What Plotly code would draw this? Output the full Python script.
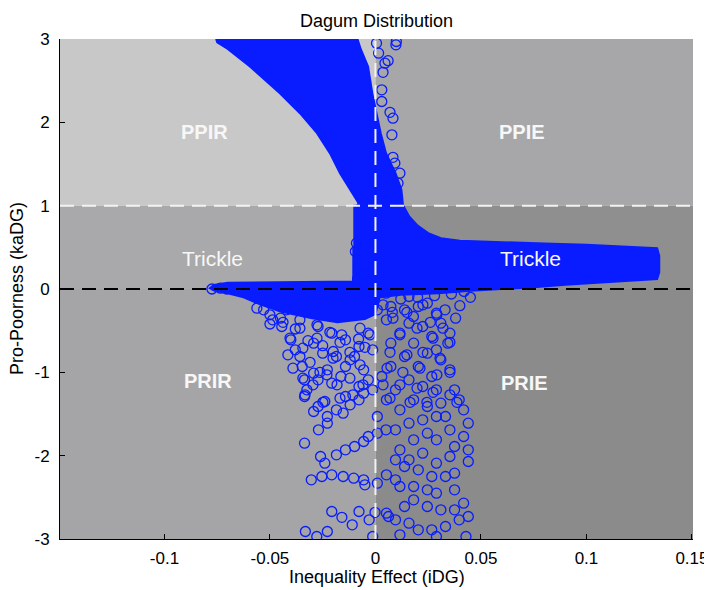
import plotly.graph_objects as go

# ---------------- data ----------------
TITLE = "Dagum Distribution"
X_TITLE = "Inequality Effect (iDG)"
Y_TITLE = "Pro-Poorness (kaDG)"

X_TICKS = [-0.1, -0.05, 0, 0.05, 0.1, 0.15]
X_TICK_LABELS = ["-0.1", "-0.05", "0", "0.05", "0.1", "0.15"]
Y_TICKS = [-3, -2, -1, 0, 1, 2, 3]
Y_TICK_LABELS = ["-3", "-2", "-1", "0", "1", "2", "3"]

X_RANGE = [-0.1495, 0.1505]
Y_RANGE = [-3, 3]

# quadrant boundaries
X_SPLIT = 0.0
Y_SPLITS = [0.0, 1.0]

REGION_TEXT = ["PPIR", "PPIE", "Trickle", "Trickle", "PRIR", "PRIE"]
REGION_X = [-0.081, 0.0695, -0.077, 0.0735, -0.0795, 0.0705]
REGION_Y = [1.88, 1.88, 0.37, 0.37, -1.10, -1.13]
REGION_BOLD = [True, True, False, False, True, True]

# dense (saturated) upper part of the cloud: left and right edge per level
UPPER_LEVEL_Y = [3.00, 2.96, 2.88, 2.67, 2.35, 2.11, 1.87, 1.63, 1.39, 1.19,
                 1.03, 0.97]
UPPER_LEFT_X = [-0.0755, -0.0750, -0.0700, -0.0595, -0.0453, -0.0358, -0.0277,
                -0.0216, -0.0168, -0.0120, -0.0080, -0.0095]
UPPER_RIGHT_X = [-0.0085, -0.0080, -0.0070, -0.0035, -0.0015, 0.0005, 0.0025,
                 0.0050, 0.0095, 0.0123, 0.0130, 0.0132]

# outline of the dense neck, right trickle band and the band near zero
LOWER_X = [-0.0105, 0.0132, 0.0160, 0.0200, 0.0250, 0.0310, 0.0400, 0.0600,
           0.0800, 0.1000, 0.1200, 0.1335, 0.1345, 0.1345, 0.1335, 0.1200,
           0.1050, 0.0900, 0.0750, 0.0600, 0.0450, 0.0300, 0.0120, 0.0020,
           0.0000, -0.0050, -0.0180, -0.0300, -0.0450, -0.0550, -0.0625,
           -0.0700, -0.0765, -0.0785, -0.0765, -0.0700, -0.0500, -0.0200,
           -0.0105, -0.0105]
LOWER_Y = [1.00, 1.00, 0.87, 0.76, 0.67, 0.61, 0.58, 0.56,
           0.545, 0.53, 0.51, 0.49, 0.40, 0.20, 0.12, 0.10,
           0.08, 0.05, 0.02, 0.00, -0.02, -0.05, -0.07, -0.10,
           -0.30, -0.36, -0.40, -0.35, -0.27, -0.18, -0.10,
           -0.05, -0.02, 0.01, 0.05, 0.075, 0.08, 0.085,
           0.09, 0.50]

# individual (non-saturated) circles
CIRCLE_X = [
    # column of circles above the trickle band, right of zero
    0.0097, 0.0099, 0.0005, 0.0015, 0.0045, 0.0060, 0.0036, 0.0030, 0.0030,
    0.0069, 0.0083, 0.0078, 0.0083, 0.0092, 0.0116, 0.0107,
    # left edge of the neck and left tip
    -0.0090, -0.0095, -0.0080, -0.0055, -0.0085, -0.0775, -0.0735, -0.0705,
    # upper part of the lower cloud (left of zero)
    -0.0562, -0.0500, -0.0438, -0.0405, -0.0415, -0.0391, -0.0344, -0.0334,
    -0.0296, -0.0263, -0.0310, -0.0344, -0.0277, -0.0216, -0.0277, -0.0358,
    -0.0168, -0.0121, -0.0201, -0.0230, -0.0182, -0.0121, -0.0073, -0.0059,
    -0.0107, -0.0168, -0.0249, -0.0026, -0.0073,
    -0.0487, -0.0444, -0.0530, -0.0422, -0.0358, -0.0272, -0.0207, -0.0142,
    -0.0078, -0.0034, -0.0401, -0.0380, -0.0358, -0.0347, -0.0336, -0.0293,
    -0.0272, -0.0228, -0.0207, -0.0164, -0.0142, -0.0185, -0.0250, -0.0293,
    -0.0099, -0.0056, -0.0034,
    -0.0450, -0.0500, -0.0380, -0.0320, -0.0250, -0.0200, -0.0120, -0.0050,
    -0.0080, -0.0160,
    # upper part of the lower cloud (right of zero)
    0.0036, 0.0083, 0.0149, 0.0225, 0.0291, 0.0320, 0.0353, 0.0273, 0.0197,
    0.0116, 0.0069, 0.0149, 0.0225, 0.0306, 0.0353, 0.0291, 0.0211, 0.0130,
    0.0055, 0.0036, 0.0116, 0.0197, 0.0273, 0.0353, 0.0386, 0.0069, 0.0164,
    0.0244,
    0.0289, 0.0310, 0.0353, 0.0343, 0.0353, 0.0310, 0.0289, 0.0267, 0.0224,
    0.0159, 0.0116, 0.0073, 0.0181, 0.0246, 0.0138, 0.0073, 0.0203, 0.0267,
    0.0073, 0.0138, 0.0203, 0.0246, 0.0159, 0.0009, 0.0052, -0.0013, 0.0030,
    0.0050, 0.0120, 0.0200, 0.0280, 0.0360, 0.0420, 0.0080, 0.0180, 0.0260,
    0.0330, 0.0380, 0.0400, 0.0450,
    # lower-left sparse circles
    -0.0336, -0.0325, -0.0293, -0.0272, -0.0240, -0.0228, -0.0185, -0.0153,
    -0.0120, -0.0142, -0.0078, -0.0056, -0.0013, -0.0078,
    -0.0336, -0.0270, -0.0228,
    -0.0260, -0.0240, -0.0185, -0.0142, -0.0099, -0.0056, -0.0034, 0.0009,
    0.0050,
    -0.0304, -0.0254, -0.0207, -0.0153, -0.0103, -0.0056, -0.0050, 0.0009,
    -0.0207, -0.0159, -0.0110, -0.0078, -0.0030, -0.0002, 0.0062,
    -0.0332, -0.0278, -0.0228, -0.0013,
    # lower-right sparse circles
    0.0375, 0.0397, 0.0418, 0.0440, 0.0418, 0.0440, 0.0440, 0.0375, 0.0353,
    0.0332, 0.0310, 0.0289, 0.0224, 0.0159, 0.0095, 0.0052, 0.0116, 0.0181,
    0.0246, 0.0289, 0.0224, 0.0159, 0.0095, 0.0246, 0.0289, 0.0181, 0.0116,
    0.0095, 0.0159, 0.0224, 0.0289, 0.0353, 0.0375, 0.0332, 0.0267, 0.0203,
    0.0138, 0.0095, 0.0052, 0.0116, 0.0181, 0.0246, 0.0289, 0.0375, 0.0418,
    0.0375, 0.0310, 0.0246, 0.0181, 0.0138, 0.0095, 0.0052, 0.0159, 0.0203,
    0.0267, 0.0332, 0.0397, 0.0440, 0.0429, 0.0289, 0.0116, 0.0009,
]
CIRCLE_Y = [
    2.93, 2.97, 2.95, 2.83, 2.71, 2.74, 2.60, 2.39, 2.25,
    2.12, 2.05, 1.85, 1.58, 1.51, 1.39, 1.27,
    0.55, 0.45, 0.25, 0.18, 0.12, 0.00, 0.01, 0.00,
    -0.23, -0.31, -0.40, -0.59, -0.79, -0.95, -1.07, -1.27,
    -1.15, -1.00, -0.88, -0.71, -0.59, -0.52, -0.43, -0.47,
    -0.64, -0.76, -0.83, -1.03, -1.15, -1.07, -0.91, -1.15,
    -1.27, -1.31, -1.36, -0.55, -0.47,
    -0.37, -0.45, -0.25, -0.25, -0.37, -0.45, -0.53, -0.61,
    -0.69, -0.53, -0.61, -0.73, -0.81, -0.93, -1.09, -1.01,
    -1.09, -0.97, -1.13, -1.05, -0.93, -0.81, -0.77, -0.65,
    -0.81, -0.97, -1.09,
    -0.35, -0.42, -0.48, -0.62, -0.68, -0.75, -0.85, -0.70,
    -0.60, -0.55,
    -0.19, -0.35, -0.28, -0.19, -0.31, -0.47, -0.64, -0.59, -0.47,
    -0.55, -0.76, -0.79, -0.76, -0.83, -1.00, -1.03, -0.95, -1.00,
    -0.95, -1.15, -1.15, -1.19, -1.24, -1.27, -1.36, -1.31, -1.36,
    -1.36,
    -0.29, -0.41, -0.53, -0.65, -0.97, -0.85, -0.73, -0.57, -0.45,
    -0.41, -0.53, -0.65, -0.65, -0.77, -0.81, -0.93, -0.93, -1.05,
    -0.21, -0.25, -0.21, -0.17, -0.09, -0.25, -0.37, -0.73, -1.05,
    -0.05, -0.12, -0.10, -0.08, -0.06, -0.03, -0.28, -0.33, -0.40,
    -0.25, -0.35, -0.20, -0.10,
    -1.29, -1.21, -1.47, -1.41, -1.35, -1.53, -1.45, -1.49,
    -1.39, -1.29, -1.33, -1.25, -1.21, -1.17,
    -1.85, -1.69, -1.61,
    -2.01, -2.09, -1.99, -1.93, -1.89, -1.83, -1.77, -1.73,
    -1.69,
    -2.29, -2.25, -2.23, -2.25, -2.27, -2.29, -2.35, -2.33,
    -2.67, -2.74, -2.83, -2.67, -2.77, -2.68, -2.73,
    -2.91, -2.97, -2.91, -2.97,
    -1.21, -1.33, -1.45, -1.61, -1.77, -1.93, -2.07, -1.89, -1.69,
    -1.53, -1.37, -1.21, -1.17, -1.09, -1.21, -1.33, -1.45, -1.33,
    -1.41, -1.53, -1.57, -1.61, -1.69, -1.73, -1.81, -1.81, -1.93,
    -2.05, -2.05, -1.97, -2.09, -2.01, -2.21, -2.25, -2.25, -2.17,
    -2.13, -2.29, -2.23, -2.37, -2.37, -2.41, -2.45, -2.41, -2.57,
    -2.65, -2.65, -2.61, -2.53, -2.61, -2.77, -2.69, -2.81, -2.89,
    -2.89, -2.85, -2.77, -2.73, -2.97, -2.97, -2.95, -1.53,
]

# ---------------- style ----------------
BLUE = "rgb(8,28,255)"
FONT = "Liberation Sans, Arial, Helvetica, sans-serif"
C_TL, C_TR = "#c8c8c8", "#a7a7a9"
C_ML, C_MR = "#a9a9ab", "#8f8f8f"
C_BL, C_BR = "#a5a5a7", "#8b8b8b"

fig = go.Figure()

# upper saturated blob: filled between its left and right edges
fig.add_trace(go.Scatter(
    x=UPPER_LEFT_X, y=UPPER_LEVEL_Y, mode="lines",
    line=dict(color=BLUE, width=2), hoverinfo="skip", showlegend=False))
fig.add_trace(go.Scatter(
    x=UPPER_RIGHT_X, y=UPPER_LEVEL_Y, mode="lines", fill="tonextx",
    fillcolor=BLUE, line=dict(color=BLUE, width=2),
    hoverinfo="skip", showlegend=False))

# neck, right trickle band and band near zero
fig.add_trace(go.Scatter(
    x=LOWER_X, y=LOWER_Y, mode="lines", fill="toself",
    fillcolor=BLUE, line=dict(color=BLUE, width=2),
    hoverinfo="skip", showlegend=False))

fig.add_trace(go.Scatter(
    x=CIRCLE_X, y=CIRCLE_Y, mode="markers",
    marker=dict(symbol="circle-open", size=10, color=BLUE,
                line=dict(width=1.3, color=BLUE)),
    cliponaxis=True, hoverinfo="skip", showlegend=False))

x0, x1 = X_RANGE
y0, y1 = Y_RANGE
ylo, yhi = Y_SPLITS
shapes = []
for (xa, xb, ya, yb, col) in [
    (x0, X_SPLIT, yhi, y1, C_TL), (X_SPLIT, x1, yhi, y1, C_TR),
    (x0, X_SPLIT, ylo, yhi, C_ML), (X_SPLIT, x1, ylo, yhi, C_MR),
    (x0, X_SPLIT, y0, ylo, C_BL), (X_SPLIT, x1, y0, ylo, C_BR)]:
    shapes.append(dict(type="rect", xref="x", yref="y", x0=xa, x1=xb,
                       y0=ya, y1=yb, fillcolor=col, line=dict(width=0),
                       layer="below"))

# dashed reference lines (drawn above markers)
shapes.append(dict(type="line", xref="x", yref="y", x0=x0, x1=x1, y0=yhi, y1=yhi,
                   line=dict(color="#f2f2f2", width=2, dash="14px,8px"), layer="above"))
shapes.append(dict(type="line", xref="x", yref="y", x0=x0, x1=x1, y0=ylo, y1=ylo,
                   line=dict(color="black", width=2, dash="14px,8px"), layer="above"))
shapes.append(dict(type="line", xref="x", yref="y", x0=X_SPLIT, x1=X_SPLIT, y0=y0, y1=y1,
                   line=dict(color="#f2f2f2", width=2, dash="14px,8px"), layer="above"))

annotations = []
for t, xx, yy, b in zip(REGION_TEXT, REGION_X, REGION_Y, REGION_BOLD):
    annotations.append(dict(
        x=xx, y=yy, xref="x", yref="y", showarrow=False,
        text=f"<b>{t}</b>" if b else t,
        font=dict(family=FONT, size=20 if b else 21, color="#f7f7f7")))
annotations.append(dict(x=0.5, y=1, xref="paper", yref="paper", showarrow=False,
                        text=TITLE, yanchor="bottom", yshift=6,
                        font=dict(family=FONT, size=18, color="black")))
annotations.append(dict(x=0.5, y=0, xref="paper", yref="paper", showarrow=False,
                        text=X_TITLE, yanchor="top", yshift=-26,
                        font=dict(family=FONT, size=18, color="black")))
annotations.append(dict(x=0, y=0.5, xref="paper", yref="paper", showarrow=False,
                        text=Y_TITLE, xanchor="right", xshift=-31, textangle=-90,
                        font=dict(family=FONT, size=18, color="black")))

# the page adds an 8px body margin, so the figure is made 8px smaller
fig.update_layout(
    width=704, height=582,
    margin=dict(l=52, r=19, t=31, b=51),
    paper_bgcolor="white", plot_bgcolor="white",
    shapes=shapes, annotations=annotations,
    font=dict(family=FONT, size=17, color="black"),
    xaxis=dict(range=X_RANGE, tickvals=X_TICKS, ticktext=X_TICK_LABELS,
               showgrid=False, zeroline=False, showline=True, linecolor="black",
               linewidth=1, ticks="inside", ticklen=5, tickcolor="black",
               ticklabelstandoff=4, mirror=False, tickfont=dict(size=17),
               automargin=False),
    yaxis=dict(range=Y_RANGE, tickvals=Y_TICKS, ticktext=Y_TICK_LABELS,
               showgrid=False, zeroline=False, showline=True, linecolor="black",
               linewidth=1, ticks="inside", ticklen=5, tickcolor="black",
               ticklabelstandoff=6, mirror=False, tickfont=dict(size=17),
               automargin=False),
)

fig.write_html("out.html")
